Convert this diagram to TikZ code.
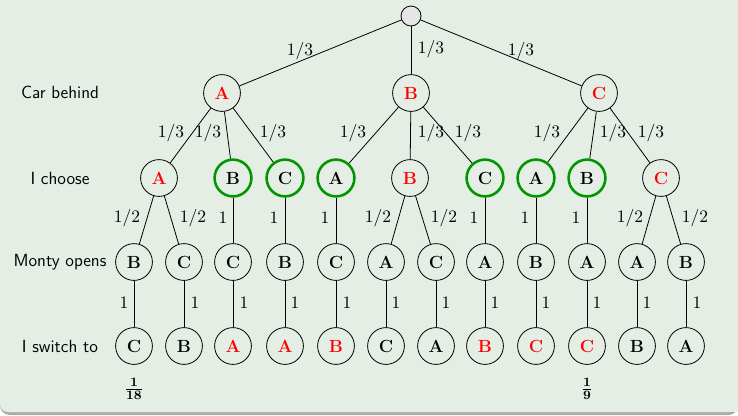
\documentclass[tikz,border=0pt]{standalone}
\definecolor{bgfill}{RGB}{229,238,229}
\definecolor{shadowc}{RGB}{170,172,170}
\definecolor{tgreen}{RGB}{0,150,0}
\begin{document}
\begin{tikzpicture}[x=0.625pt,y=-0.625pt,
  every node/.style={font=\fontsize{11}{13}\selectfont},
  bnode/.style={circle, draw=black, line width=0.5pt, minimum size=23pt, inner sep=0pt, font=\fontsize{11}{13}\selectfont\bfseries},
  gnode/.style={bnode, draw=tgreen, line width=1.6pt},
  rtext/.style={text=red},
  rootnode/.style={circle, draw=black, line width=0.5pt, fill=gray!20, minimum size=12.5pt, inner sep=0pt},
  plabel/.style={inner sep=0pt},
  rowlabel/.style={font=\fontsize{11}{13}\selectfont\sffamily},
  branch/.style={line width=0.5pt, draw=black}]
\useasboundingbox (0,0) rectangle (738,415);
\fill[shadowc, rounded corners=6pt] (0,-10) rectangle (738,415);
\fill[bgfill, rounded corners=5pt] (0,-10) rectangle (738,412);
\fill[bgfill] (0,-10) rectangle (738,300);
\fill[bgfill] (700,300) rectangle (738,412);

% row labels
\node[rowlabel] (rl1) at (60,92) {Car behind};
\node[rowlabel] (rl2) at (60,178) {I choose};
\node[rowlabel] (rl3) at (60,262) {Monty opens};
\node[rowlabel] (rl4) at (60,346) {I switch to};

% root
\node[rootnode] (r) at (411,16) {};
% level 1
\node[bnode, rtext] (a1) at (222,93) {A};
\node[bnode, rtext] (b1) at (411,93) {B};
\node[bnode, rtext] (c1) at (599,93) {C};
% level 2
\node[bnode, rtext] (n21) at (159,178) {A};
\node[gnode] (n22) at (233,178) {B};
\node[gnode] (n23) at (285,178) {C};
\node[gnode] (n24) at (336,178) {A};
\node[bnode, rtext] (n25) at (410,178) {B};
\node[gnode] (n26) at (485,178) {C};
\node[gnode] (n27) at (536,178) {A};
\node[gnode] (n28) at (587,178) {B};
\node[bnode, rtext] (n29) at (661,178) {C};
% level 3
\node[bnode] (n31) at (134,262) {B};
\node[bnode] (n32) at (184,262) {C};
\node[bnode] (n33) at (233,262) {C};
\node[bnode] (n34) at (285,262) {B};
\node[bnode] (n35) at (336,262) {C};
\node[bnode] (n36) at (386,262) {A};
\node[bnode] (n37) at (436,262) {C};
\node[bnode] (n38) at (485,262) {A};
\node[bnode] (n39) at (536,262) {B};
\node[bnode] (n310) at (587,262) {A};
\node[bnode] (n311) at (637,262) {A};
\node[bnode] (n312) at (686,262) {B};
% level 4
\node[bnode] (n41) at (134,346) {C};
\node[bnode] (n42) at (184,346) {B};
\node[bnode, rtext] (n43) at (233,346) {A};
\node[bnode, rtext] (n44) at (285,346) {A};
\node[bnode, rtext] (n45) at (336,346) {B};
\node[bnode] (n46) at (386,346) {C};
\node[bnode] (n47) at (436,346) {A};
\node[bnode, rtext] (n48) at (485,346) {B};
\node[bnode, rtext] (n49) at (536,346) {C};
\node[bnode, rtext] (n410) at (587,346) {C};
\node[bnode] (n411) at (637,346) {B};
\node[bnode] (n412) at (686,346) {A};

% edges
\draw[branch] (r) -- (a1);
\draw[branch] (r) -- (b1);
\draw[branch] (r) -- (c1);
\draw[branch] (a1) -- (n21);
\draw[branch] (a1) -- (n22);
\draw[branch] (a1) -- (n23);
\draw[branch] (b1) -- (n24);
\draw[branch] (b1) -- (n25);
\draw[branch] (b1) -- (n26);
\draw[branch] (c1) -- (n27);
\draw[branch] (c1) -- (n28);
\draw[branch] (c1) -- (n29);
\draw[branch] (n21) -- (n31);
\draw[branch] (n21) -- (n32);
\draw[branch] (n22) -- (n33);
\draw[branch] (n23) -- (n34);
\draw[branch] (n24) -- (n35);
\draw[branch] (n25) -- (n36);
\draw[branch] (n25) -- (n37);
\draw[branch] (n26) -- (n38);
\draw[branch] (n27) -- (n39);
\draw[branch] (n28) -- (n310);
\draw[branch] (n29) -- (n311);
\draw[branch] (n29) -- (n312);
\draw[branch] (n31) -- (n41);
\draw[branch] (n32) -- (n42);
\draw[branch] (n33) -- (n43);
\draw[branch] (n34) -- (n44);
\draw[branch] (n35) -- (n45);
\draw[branch] (n36) -- (n46);
\draw[branch] (n37) -- (n47);
\draw[branch] (n38) -- (n48);
\draw[branch] (n39) -- (n49);
\draw[branch] (n310) -- (n410);
\draw[branch] (n311) -- (n411);
\draw[branch] (n312) -- (n412);

% probability labels level 1
\node[plabel] (p11) at (300,51) {$1/3$};
\node[plabel] (p12) at (431,49) {$1/3$};
\node[plabel] (p13) at (521,51) {$1/3$};
% level 2
\node[plabel] (p21) at (171,133) {$1/3$};
\node[plabel] (p22) at (208,133) {$1/3$};
\node[plabel] (p23) at (273,133) {$1/3$};
\node[plabel] (p24) at (353,133) {$1/3$};
\node[plabel] (p25) at (431,133) {$1/3$};
\node[plabel] (p26) at (468,133) {$1/3$};
\node[plabel] (p27) at (547,133) {$1/3$};
\node[plabel] (p28) at (613,133) {$1/3$};
\node[plabel] (p29) at (651,133) {$1/3$};
% level 3
\node[plabel] (p31) at (127,218) {$1/2$};
\node[plabel] (p32) at (193,218) {$1/2$};
\node[plabel] (p33) at (223,218) {$1$};
\node[plabel] (p34) at (274,218) {$1$};
\node[plabel] (p35) at (325,218) {$1$};
\node[plabel] (p36) at (378,218) {$1/2$};
\node[plabel] (p37) at (444,218) {$1/2$};
\node[plabel] (p38) at (474,218) {$1$};
\node[plabel] (p39) at (525,218) {$1$};
\node[plabel] (p310) at (576,218) {$1$};
\node[plabel] (p311) at (630,218) {$1/2$};
\node[plabel] (p312) at (695,218) {$1/2$};
% level 4
\node[plabel] (p41) at (124,303) {$1$};
\node[plabel] (p42) at (195,303) {$1$};
\node[plabel] (p43) at (244,303) {$1$};
\node[plabel] (p44) at (295,303) {$1$};
\node[plabel] (p45) at (347,303) {$1$};
\node[plabel] (p46) at (396,303) {$1$};
\node[plabel] (p47) at (446,303) {$1$};
\node[plabel] (p48) at (495,303) {$1$};
\node[plabel] (p49) at (546,303) {$1$};
\node[plabel] (p410) at (597,303) {$1$};
\node[plabel] (p411) at (647,303) {$1$};
\node[plabel] (p412) at (697,303) {$1$};

% outcome probabilities
\node[plabel] (f1) at (134,389) {$\mathbf{\frac{1}{18}}$};
\node[plabel] (f2) at (587,389) {$\mathbf{\frac{1}{9}}$};
\end{tikzpicture}
\end{document}
